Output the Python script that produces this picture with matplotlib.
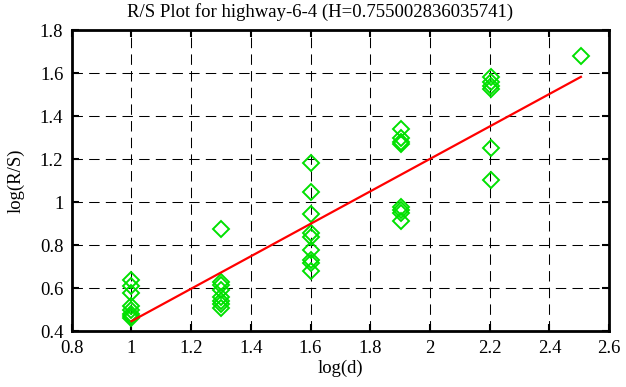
import numpy as np
import matplotlib
matplotlib.use("Agg")
import matplotlib.pyplot as plt

# ---- data ----
log_d_cols = [1.0, 1.30103, 1.60206, 1.90309, 2.20412, 2.50515]
rs_col1 = [0.64, 0.61, 0.58, 0.52, 0.50, 0.48, 0.47, 0.46]
rs_col2 = [0.875, 0.63, 0.615, 0.59, 0.56, 0.54, 0.525, 0.51]
rs_col3 = [1.183, 1.048, 0.946, 0.857, 0.838, 0.778, 0.732, 0.719, 0.682]
rs_col4 = [1.341, 1.298, 1.282, 1.271, 0.980, 0.964, 0.950, 0.913]
rs_col5 = [1.584, 1.561, 1.542, 1.526, 1.251, 1.104]
rs_col6 = [1.682]
H = 0.755002836035741
intercept = -0.308

x_ticks = [0.8, 1, 1.2, 1.4, 1.6, 1.8, 2, 2.2, 2.4, 2.6]
y_ticks = [0.4, 0.6, 0.8, 1, 1.2, 1.4, 1.6, 1.8]
x_ticklabels = ["0.8", "1", "1.2", "1.4", "1.6", "1.8", "2", "2.2", "2.4", "2.6"]
y_ticklabels = ["0.4", "0.6", "0.8", "1", "1.2", "1.4", "1.6", "1.8"]

cols = [rs_col1, rs_col2, rs_col3, rs_col4, rs_col5, rs_col6]
xs = np.concatenate([[x] * len(c) for x, c in zip(log_d_cols, cols)])
ys = np.concatenate(cols)

plt.rcParams['font.family'] = ['Liberation Serif', 'DejaVu Serif']

fig = plt.figure(figsize=(6.26, 3.87), dpi=100)
ax = fig.add_axes([71.7 / 626, 1 - 331.3 / 387, (609.2 - 71.7) / 626, (331.3 - 30.3) / 387])

ax.plot(xs, ys, linestyle='none', marker='D', markersize=8.5, markerfacecolor='none',
        markeredgecolor='#00e000', markeredgewidth=1.4, zorder=3)

xl = np.array([log_d_cols[0], log_d_cols[-1]])
ax.plot(xl, H * xl + intercept, color='#ff0000', lw=1.6, zorder=4)

ax.set_xlim(0.8, 2.6)
ax.set_ylim(0.4, 1.8)
ax.set_xticks(x_ticks)
ax.set_xticklabels(x_ticklabels)
ax.set_yticks(y_ticks)
ax.set_yticklabels(y_ticklabels)
ax.tick_params(direction='in', length=5, width=1.5, top=True, right=True,
               labelsize=13.5, pad=6, colors='black')
ax.grid(True, color='black', linestyle=(0, (10, 6)), linewidth=0.75)
for s in ax.spines.values():
    s.set_linewidth(2)

ax.set_xlabel('log(d)', fontsize=13.5, labelpad=2)
ax.set_ylabel('log(R/S)', fontsize=13.5, labelpad=11)
fig.text(0.512, 0.968, 'R/S Plot for highway-6-4 (H=0.755002836035741)', ha='center',
         va='center', fontsize=13.5)

fig.savefig('out.png', dpi=100)
